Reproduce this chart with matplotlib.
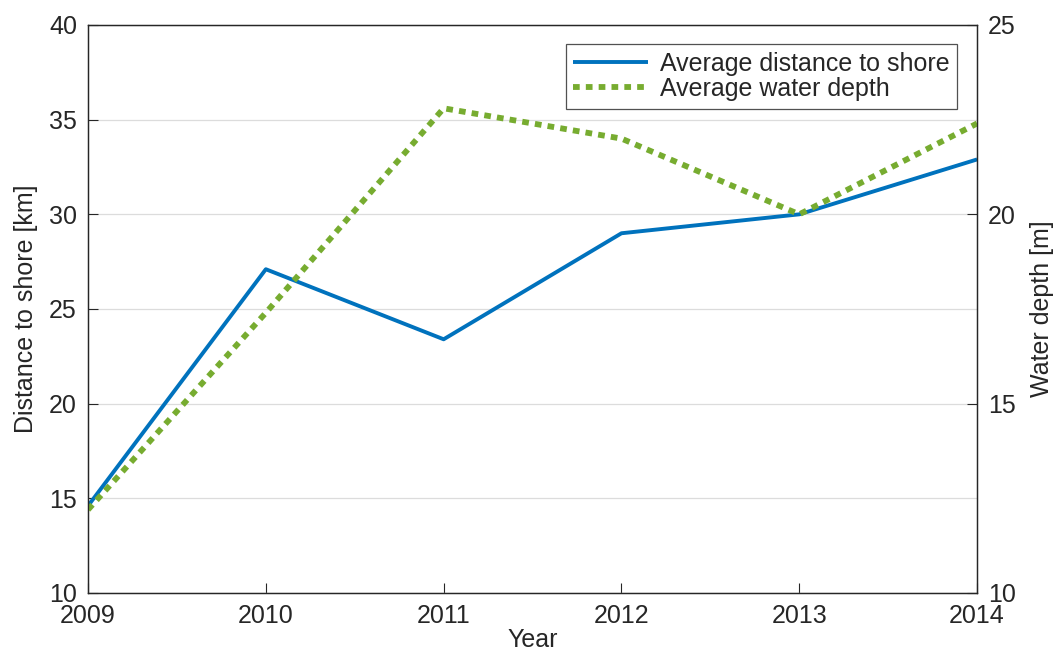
import matplotlib
matplotlib.use("Agg")
import matplotlib.pyplot as plt

plt.rcParams['font.family'] = ['Liberation Sans', 'DejaVu Sans']

years = [2009, 2010, 2011, 2012, 2013, 2014]
distance_km = [14.6, 27.1, 23.4, 29.0, 30.0, 32.9]
depth_m = [12.2, 17.4, 22.8, 22.0, 20.0, 22.4]

blue = '#0072BD'
green = '#77AC30'
ink = '#262626'
fs = 18

fig = plt.figure(figsize=(10.63, 6.63), dpi=100)
ax = fig.add_axes([0.0828, 0.1056, 0.8364, 0.8567])
ax2 = ax.twinx()

l1, = ax.plot(years, distance_km, color=blue, lw=2.8, solid_capstyle='butt',
              label='Average distance to shore')
l2, = ax2.plot(years, depth_m, color=green, lw=4.2, linestyle=(0, (1.15, 1.05)),
               dash_capstyle='butt', label='Average water depth')

ax.set_xlim(2009, 2014)
ax.set_ylim(10, 40)
ax2.set_ylim(10, 25)
ax.set_xticks(years)
ax.set_yticks(range(10, 41, 5))
ax2.set_yticks(range(10, 26, 5))
ax.yaxis.grid(True, color='#dcdcdc', lw=0.9)
ax.set_axisbelow(True)

for a in (ax, ax2):
    a.tick_params(direction='in', labelsize=fs, length=7, width=0.8,
                  colors=ink, labelcolor=ink)
    for s in a.spines.values():
        s.set_linewidth(0.9)
        s.set_color(ink)
ax.tick_params(axis='x', pad=8)
ax.tick_params(axis='y', pad=8)
ax2.tick_params(axis='y', pad=8)

ax.set_xlabel('Year', fontsize=fs, labelpad=0, color=ink)
ax.set_ylabel('Distance to shore [km]', fontsize=fs, labelpad=8, color=ink)
ax2.set_ylabel('Water depth [m]', fontsize=fs, labelpad=10, color=ink)

leg = ax2.legend(handles=[l1, l2], loc='upper right', fontsize=fs,
                 bbox_to_anchor=(0.977, 0.966), frameon=True, fancybox=False,
                 edgecolor=ink, handlelength=3.0, borderpad=0.3,
                 labelspacing=0.05, handletextpad=0.45, borderaxespad=0)
leg.get_frame().set_linewidth(0.9)
for t in leg.get_texts():
    t.set_color(ink)

fig.savefig('out.png', dpi=100)
